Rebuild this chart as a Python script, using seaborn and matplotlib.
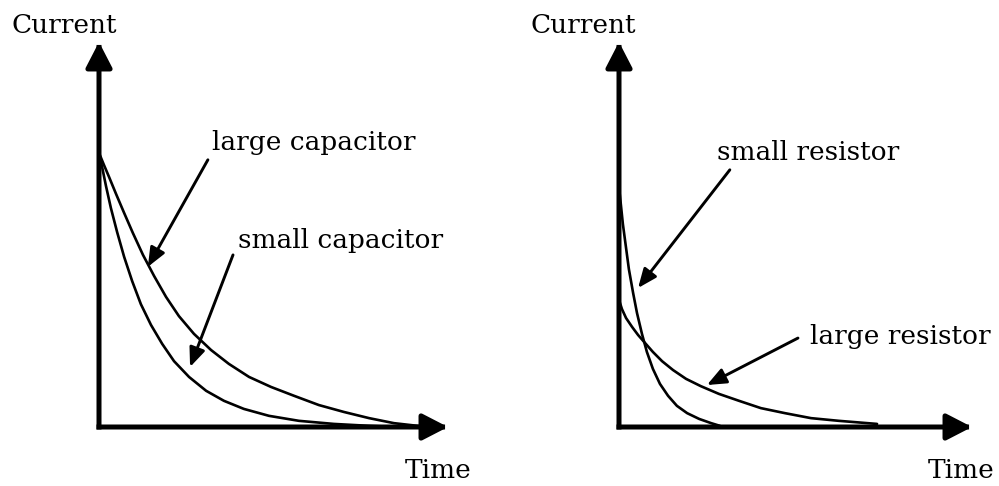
import matplotlib
matplotlib.use('Agg')
import matplotlib.pyplot as plt
import seaborn as sns

## Valores (unidades arbitrarias, ejes de 0 a 10)

# panel izquierdo: condensador grande / pequeño
t_large_cap = [0.0, 0.14, 0.29, 0.49, 0.72, 0.97, 1.26, 1.58, 1.92, 2.29, 2.72, 3.21, 3.72,
               4.30, 4.93, 5.59, 6.30, 7.02, 7.74, 8.45, 9.03, 9.46]
i_large_cap = [7.12, 6.81, 6.49, 6.05, 5.56, 5.04, 4.47, 3.92, 3.38, 2.88, 2.42, 2.00, 1.64,
               1.30, 1.04, 0.81, 0.57, 0.39, 0.23, 0.10, 0.04, 0.0]

t_small_cap = [0.0, 0.09, 0.20, 0.34, 0.52, 0.72, 0.95, 1.20, 1.49, 1.81, 2.15, 2.58, 3.07,
               3.58, 4.15, 4.87, 5.73, 6.73, 7.74, 8.60]
i_small_cap = [7.12, 6.75, 6.26, 5.69, 5.06, 4.42, 3.79, 3.19, 2.65, 2.16, 1.71, 1.30, 0.94,
               0.68, 0.47, 0.29, 0.16, 0.08, 0.03, 0.0]

# panel derecho: resistencia pequeña / grande
t_small_res = [0.0, 0.057, 0.11, 0.20, 0.28, 0.40, 0.51, 0.65, 0.79, 0.96, 1.16, 1.39, 1.64,
               1.93, 2.27, 2.61, 2.86]
i_small_res = [6.23, 5.74, 5.27, 4.65, 4.10, 3.48, 2.96, 2.42, 1.95, 1.51, 1.12, 0.81, 0.55,
               0.36, 0.21, 0.10, 0.03]

t_large_res = [0.0, 0.085, 0.20, 0.37, 0.54, 0.74, 0.96, 1.22, 1.53, 1.90, 2.32, 2.83, 3.40,
               4.02, 4.70, 5.44, 6.23, 7.31]
i_large_res = [3.30, 3.06, 2.83, 2.60, 2.39, 2.18, 1.95, 1.71, 1.48, 1.25, 1.06, 0.86, 0.68,
               0.49, 0.36, 0.23, 0.16, 0.08]

y_label = 'Current'
x_label = 'Time'

sns.set_style('white')
plt.rcParams['font.family'] = ['DejaVu Serif']
plt.rcParams['text.color'] = 'black'
FS = 19

fig = plt.figure(figsize=(9.99, 4.86), dpi=100)
ax_l = fig.add_axes([99 / 999, 59 / 486, 349 / 999, 385 / 486])
ax_r = fig.add_axes([619 / 999, 59 / 486, 353 / 999, 385 / 486])

axis_arrow = dict(arrowstyle='-|>,head_length=1.55,head_width=0.8', mutation_scale=10,
                  lw=3.6, color='black', shrinkA=0, shrinkB=0, capstyle='projecting')
note_arrow = dict(arrowstyle='-|>,head_length=1.15,head_width=0.48', mutation_scale=10,
                  lw=2.1, color='black', shrinkA=0, shrinkB=0)


def draw_panel(ax, curves, notes):
    ax.set_xlim(0, 10)
    ax.set_ylim(0, 10)
    ax.axis('off')
    for t, i in curves:
        sns.lineplot(x=t, y=i, ax=ax, color='black', lw=1.9, estimator=None,
                     sort=False, clip_on=False)
    # ejes con flecha
    ax.annotate('', xy=(0, 10), xytext=(0, 0), arrowprops=axis_arrow, annotation_clip=False)
    ax.annotate('', xy=(10, 0), xytext=(0, 0), arrowprops=axis_arrow, annotation_clip=False)
    ax.text(-2.52, 10.23, y_label, fontsize=FS, ha='left', va='baseline')
    ax.text(8.76, -1.32, x_label, fontsize=FS, ha='left', va='baseline')
    for label, txt_pos, start, tip in notes:
        ax.text(txt_pos[0], txt_pos[1], label, fontsize=FS, ha='left', va='baseline')
        ax.annotate('', xy=tip, xytext=start, arrowprops=note_arrow, annotation_clip=False)


draw_panel(ax_l,
           [(t_large_cap, i_large_cap), (t_small_cap, i_small_cap)],
           [('large capacitor', (3.24, 7.19), (3.12, 6.94), (1.40, 4.16)),
            ('small capacitor', (3.98, 4.65), (3.84, 4.47), (2.61, 1.56))])

draw_panel(ax_r,
           [(t_small_res, i_small_res), (t_large_res, i_large_res)],
           [('small resistor', (2.78, 6.94), (3.14, 6.68), (0.54, 3.61)),
            ('large resistor', (5.41, 2.16), (5.07, 2.31), (2.49, 1.09))])

plt.savefig('out.png', dpi=100)
plt.close()
